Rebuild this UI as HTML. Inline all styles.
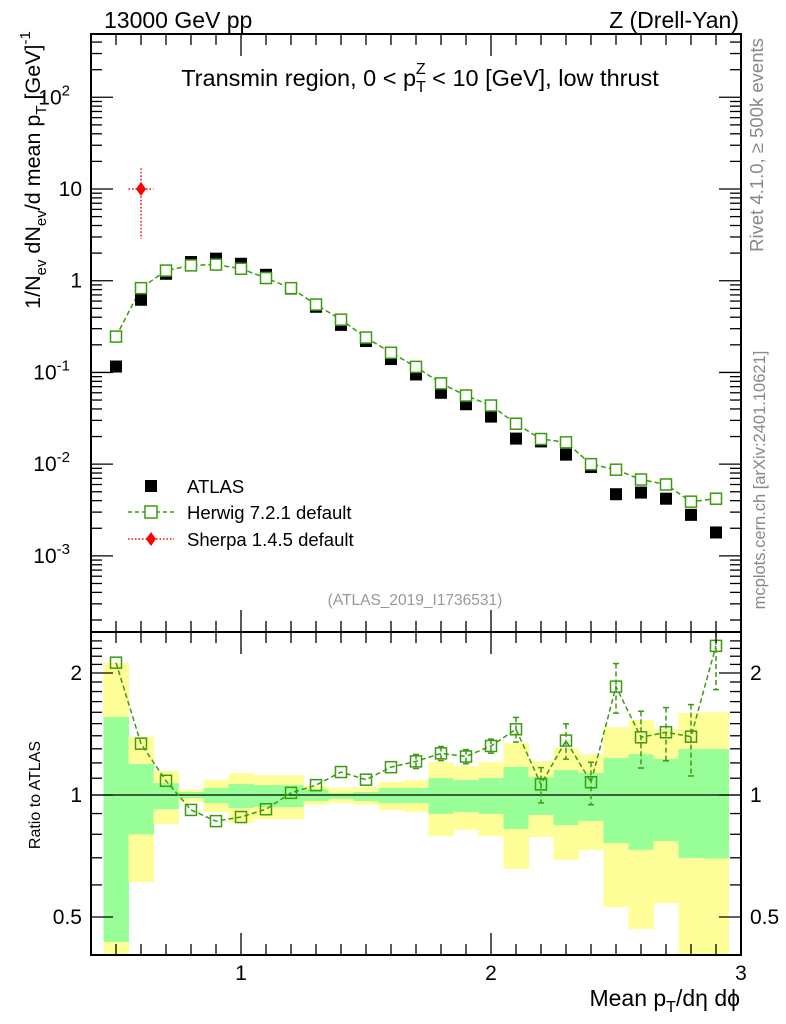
<!DOCTYPE html>
<html><head><meta charset="utf-8"><style>
html,body{margin:0;padding:0;background:#fff;}
svg{display:block;font-family:"Liberation Sans",sans-serif;}
</style></head><body>
<svg id="chart" width="786" height="1024" viewBox="0 0 786 1024" xmlns="http://www.w3.org/2000/svg">
<g id="bands"></g><g id="marks"></g><g id="axes"></g>
<text x="104" y="28" font-size="23">13000 GeV pp</text>
<text x="739" y="28" font-size="23" text-anchor="end">Z (Drell-Yan)</text>
<text x="420" y="86" font-size="23.5" text-anchor="middle">Transmin region, 0 &lt; p<tspan font-size="16" dy="6">T</tspan><tspan font-size="16" dx="-10" dy="-18">Z</tspan><tspan dy="12"> &lt; 10 [GeV], low thrust</tspan></text>
<text transform="translate(763,145) rotate(-90)" font-size="18.5" fill="#888" text-anchor="middle">Rivet 4.1.0, ≥ 500k events</text>
<text transform="translate(765,480) rotate(-90)" font-size="16.5" fill="#888" text-anchor="middle">mcplots.cern.ch [arXiv:2401.10621]</text>
<text x="415" y="605" font-size="15.5" fill="#999" text-anchor="middle">(ATLAS_2019_I1736531)</text>
<text transform="translate(40,170) rotate(-90)" font-size="21.5" text-anchor="middle">1/N<tspan font-size="15" dy="6">ev</tspan><tspan dy="-6"> dN</tspan><tspan font-size="15" dy="6">ev</tspan><tspan dy="-6">/d mean p</tspan><tspan font-size="15" dy="6">T</tspan><tspan dy="-6"> [GeV]</tspan><tspan font-size="15" dy="-10">-1</tspan></text>
<text transform="translate(40,795) rotate(-90)" font-size="16" text-anchor="middle">Ratio to ATLAS</text>
<text x="740" y="1006" font-size="23" text-anchor="end">Mean p<tspan font-size="16" dy="6">T</tspan><tspan dy="-6">/dη dϕ</tspan></text>
<g>
<rect x="145" y="480" width="12" height="12" fill="#000"/>
<text x="187" y="493" font-size="18.5">ATLAS</text>
<line x1="128" y1="512" x2="174" y2="512" stroke="#3a9b0f" stroke-width="1.5" stroke-dasharray="4,3"/>
<rect x="145" y="506" width="12" height="12" fill="#fff" stroke="#3a9b0f" stroke-width="1.5"/>
<text x="187" y="519" font-size="18.5">Herwig 7.2.1 default</text>
<line x1="128" y1="539" x2="174" y2="539" stroke="#f00" stroke-width="1.5" stroke-dasharray="1.5,2"/>
<path d="M151 532 L156 539 L151 546 L146 539Z" fill="#f00"/>
<text x="187" y="546" font-size="18.5">Sherpa 1.4.5 default</text>
</g>
</svg>
<script>
const bins = [0.5,0.6,0.7,0.8,0.9,1.0,1.1,1.2,1.3,1.4,1.5,1.6,1.7,1.8,1.9,2.0,2.1,2.2,2.3,2.4,2.5,2.6,2.7,2.8,2.9];
const atlas = [0.116,0.62,1.19,1.6,1.74,1.53,1.16,0.82,0.52,0.33,0.22,0.14,0.095,0.06,0.045,0.033,0.019,0.0177,0.0127,0.0093,0.0047,0.0049,0.0042,0.0028,0.0018];
const herwig = [0.246,0.83,1.29,1.47,1.5,1.35,1.07,0.83,0.55,0.376,0.24,0.164,0.115,0.076,0.056,0.0436,0.0276,0.0188,0.0173,0.01,0.0087,0.0068,0.006,0.0039,0.0042];
const herwigRelErr = [0,0,0,0,0,0,0,0,0,0,0,0,0.04,0.04,0.04,0.04,0.07,0.1,0.1,0.12,0.14,0.16,0.15,0.2,0.22];
const greenUp = [1.557,1.193,1.07,1.017,1.04,1.064,1.058,1.058,1.034,1.011,1.017,1.04,1.04,1.101,1.089,1.101,1.173,1.108,1.153,1.133,1.234,1.262,1.227,1.299,1.299];
const greenDn = [0.434,0.80,0.923,0.983,0.955,0.929,0.934,0.934,0.967,0.978,0.967,0.955,0.955,0.898,0.908,0.898,0.824,0.893,0.843,0.863,0.761,0.732,0.77,0.699,0.697];
const yellowUp = [2.117,1.39,1.146,1.034,1.089,1.133,1.12,1.12,1.052,1.04,1.046,1.077,1.089,1.206,1.179,1.206,1.344,1.213,1.306,1.262,1.471,1.531,1.455,1.593,1.6];
const yellowDn = [0.38,0.61,0.848,0.961,0.908,0.853,0.872,0.872,0.945,0.955,0.945,0.918,0.908,0.792,0.820,0.792,0.657,0.788,0.691,0.732,0.529,0.467,0.541,0.3,0.3];
const sherpaX = [0.6];
const sherpa = [10];
const sherpaUp = [16.8];
const sherpaDn = [2.86];
const xTicks = [1,2,3];
const yTicks = [[100,'10','2'],[10,'10',''],[1,'1',''],[0.1,'10','-1'],[0.01,'10','-2'],[0.001,'10','-3']];
const rTicks = [[2,'2'],[1,'1'],[0.5,'0.5']];

const NS='http://www.w3.org/2000/svg';
const L=91,R=741,T=34,MB=632,RB=955;
const X=v=>L+(v-0.4)/2.6*(R-L);
const lmin=-3.83,lmax=2.69;
const Y=v=>MB-(Math.log10(v)-lmin)/(lmax-lmin)*(MB-T);
const RY=v=>795-Math.log2(v)*122;
const RYc=v=>Math.min(RB,Math.max(MB,RY(v)));
function mk(parent,tag,attrs){const e=document.createElementNS(NS,tag);for(const k in attrs)e.setAttribute(k,attrs[k]);document.getElementById(parent).appendChild(e);return e;}
const hw=0.05;
bins.forEach((b,i)=>{
  let e=mk('bands','rect',{x:X(b-hw),y:RYc(yellowUp[i]),width:X(b+hw)-X(b-hw)+0.5,height:RYc(yellowDn[i])-RYc(yellowUp[i]),fill:'#ffff99'});
  
  
  e=mk('bands','rect',{x:X(b-hw),y:RYc(greenUp[i]),width:X(b+hw)-X(b-hw)+0.5,height:RYc(greenDn[i])-RYc(greenUp[i]),fill:'#99ff99'});
  
  
});
let e=mk('bands','line',{x1:L,x2:R,y1:RY(1),y2:RY(1),stroke:'#000','stroke-width':1.3});


const G='#3a9b0f';
e=mk('marks','polyline',{points:bins.map((b,i)=>X(b)+','+Y(herwig[i])).join(' '),fill:'none',stroke:G,'stroke-width':1.5,'stroke-dasharray':'5,3'});


const ratio=bins.map((b,i)=>herwig[i]/atlas[i]);
e=mk('marks','polyline',{points:bins.map((b,i)=>X(b)+','+RYc(ratio[i])).join(' '),fill:'none',stroke:G,'stroke-width':1.5,'stroke-dasharray':'5,3'});


bins.forEach((b,i)=>{
  const x=X(b);
  let m=mk('marks','rect',{x:x-6,y:Y(atlas[i])-6,width:12,height:12,fill:'#000'});
  
  
  if(herwigRelErr[i]>0){
    const up=ratio[i]*(1+herwigRelErr[i]),dn=ratio[i]*(1-herwigRelErr[i]);
    m=mk('marks','line',{x1:x,x2:x,y1:RYc(up),y2:RYc(dn),stroke:G,'stroke-width':1.5,'stroke-dasharray':'5,3'});
    
    
    [up,dn].forEach(v=>{if(RY(v)>MB){const c=mk('marks','line',{x1:x-3,x2:x+3,y1:RY(v),y2:RY(v),stroke:G,'stroke-width':1.5});
      
      }});
  }
  m=mk('marks','rect',{x:x-5.5,y:Y(herwig[i])-5.5,width:11,height:11,fill:'#fff',stroke:G,'stroke-width':1.5});
  
  
  if(RY(ratio[i])>=MB){
  m=mk('marks','rect',{x:x-5.5,y:RY(ratio[i])-5.5,width:11,height:11,fill:'none',stroke:G,'stroke-width':1.5});
  
  }
});
sherpaX.forEach((s,i)=>{
  const x=X(s),y=Y(sherpa[i]);
  let m=mk('marks','line',{x1:x,x2:x,y1:Y(sherpaUp[i]),y2:Y(sherpaDn[i]),stroke:'#f00','stroke-width':1.5,'stroke-dasharray':'1.5,2'});
  
  
  m=mk('marks','line',{x1:X(s-hw),x2:X(s+hw),y1:y,y2:y,stroke:'#f00','stroke-width':1.5,'stroke-dasharray':'1.5,2'});
  
  
  m=mk('marks','path',{d:`M${x} ${y-7}L${x+5} ${y}L${x} ${y+7}L${x-5} ${y}Z`,fill:'#f00'});
  
  
});
[[T,MB],[MB,RB]].forEach(([a,b],k)=>{
  const f=mk('axes','rect',{x:L,y:a,width:R-L,height:b-a,fill:'none',stroke:'#000','stroke-width':2});
  
  
});
function tk(x1,y1,x2,y2){const t=mk('axes','line',{x1,y1,x2,y2,stroke:'#000','stroke-width':1.3});
  
  }
for(let v=0.5;v<3.0;v+=0.1){const x=X(v);const maj=Math.abs(v-Math.round(v))<0.01;const len=maj?22:11;
  tk(x,T,x,T+len);tk(x,MB,x,MB-len);tk(x,MB,x,MB+len);tk(x,RB,x,RB-len);}
for(let d=-4;d<=2;d++){for(let m=1;m<10;m++){const v=m*Math.pow(10,d);const y=Y(v);if(y<T||y>MB)continue;const len=m==1?22:11;tk(L,y,L+len,y);tk(R,y,R-len,y);}}
for(let v=0.4;v<=2.5;v+=0.1){const y=RY(v);if(y<MB||y>RB)continue;const maj=[0.5,1,2].some(q=>Math.abs(q-v)<0.01);const len=maj?22:11;tk(L,y,L+len,y);tk(R,y,R-len,y);}
xTicks.forEach(v=>{const t=mk('axes','text',{x:X(v),y:980,'font-size':21,'text-anchor':'middle'});t.textContent=v;
  
  });
yTicks.forEach(([v,b,ex])=>{const t=mk('axes','text',{x:ex?70:82,y:Y(v)+7,'font-size':21,'text-anchor':'end'});
  
  
  t.textContent=b; if(ex){const s=document.createElementNS(NS,'tspan');s.setAttribute('font-size','15');s.setAttribute('dy','-9');s.textContent=ex;t.appendChild(s);}});
rTicks.forEach(([v,s])=>{[[82,'end'],[750,'start']].forEach(([x,a])=>{const t=mk('axes','text',{x,y:RY(v)+7,'font-size':21,'text-anchor':a});t.textContent=s;
  
  });});
</script>
</body></html>
